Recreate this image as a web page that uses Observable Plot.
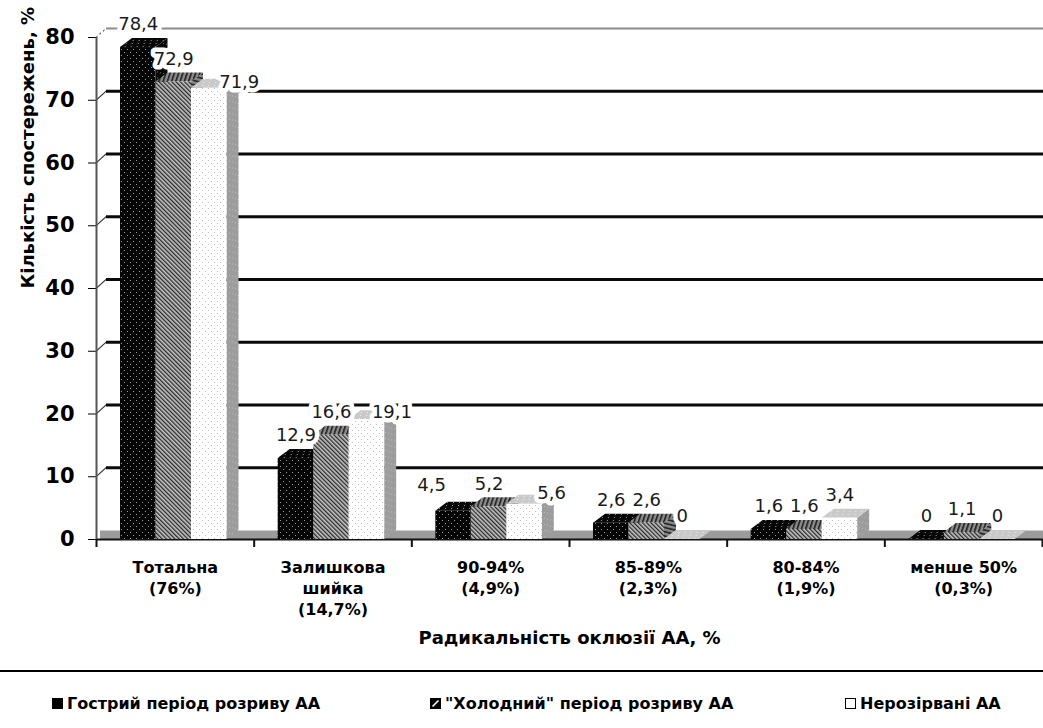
<!DOCTYPE html>
<html>
<head>
<meta charset="utf-8">
<script src="https://cdn.jsdelivr.net/npm/d3@7"></script>
<script src="https://cdn.jsdelivr.net/npm/@observablehq/plot@0.6"></script>
<style>
  body { margin: 0; background: #fff; font-family: "DejaVu Sans", sans-serif; }
  #wrap { position: relative; width: 1043px; height: 728px; overflow: hidden; }
  #chart svg { display: block; }
  #rule { position: absolute; left: 0; top: 670px; width: 1043px; border-top: 2px solid #000; }
  .leg { position: absolute; top: 693px; height: 20px; display: flex; align-items: center;
         font-weight: bold; font-size: 16px; color: #000; white-space: pre; }
  .leg svg { margin-right: 4px; }
  /* 3-D faces: top faces lean back-right, side faces rise to the right */
  rect[aria-label="bar-top"] { transform-box: fill-box; transform-origin: 0 100%; transform: skewX(-53.13deg); }
  rect[aria-label="bar-side"] { transform-box: fill-box; transform-origin: 0 0; transform: skewY(-36.87deg); }
  line[aria-label="wall-edge"] { transform-box: fill-box; transform-origin: 0 0; transform: skewY(-42deg); }
</style>
</head>
<body>
<svg width="0" height="0" style="position:absolute">
  <defs>
    <pattern id="pBlack" width="6" height="6" patternUnits="userSpaceOnUse">
      <rect width="6" height="6" fill="#050505"/>
      <rect x="1" y="1" width="1" height="1" fill="#9a9a9a"/>
      <rect x="4" y="4" width="1" height="1" fill="#9a9a9a"/>
    </pattern>
    <pattern id="pHatch" width="3" height="3" patternUnits="userSpaceOnUse" patternTransform="rotate(-45)">
      <rect width="3" height="3" fill="#c4c4c4"/>
      <rect width="1.3" height="3" fill="#2a2a2a"/>
    </pattern>
    <pattern id="pHatchDark" width="3" height="3" patternUnits="userSpaceOnUse" patternTransform="rotate(-45)">
      <rect width="3" height="3" fill="#8a8a8a"/>
      <rect width="1.3" height="3" fill="#2a2a2a"/>
    </pattern>
    <pattern id="pWhite" width="6" height="6" patternUnits="userSpaceOnUse">
      <rect width="6" height="6" fill="#ffffff"/>
      <rect x="1" y="1" width="1" height="1" fill="#bdbdbd"/>
      <rect x="4" y="4" width="1" height="1" fill="#bdbdbd"/>
    </pattern>
    <pattern id="pLight" width="6" height="6" patternUnits="userSpaceOnUse">
      <rect width="6" height="6" fill="#c9c9c9"/>
      <rect x="1" y="1" width="1" height="1" fill="#eeeeee"/>
      <rect x="4" y="4" width="1" height="1" fill="#eeeeee"/>
    </pattern>
    <pattern id="pSide" width="6" height="6" patternUnits="userSpaceOnUse">
      <rect width="6" height="6" fill="#9c9c9c"/>
      <rect x="1" y="1" width="1" height="1" fill="#c8c8c8"/>
      <rect x="4" y="4" width="1" height="1" fill="#c8c8c8"/>
    </pattern>
  </defs>
</svg>

<div id="wrap">
  <div id="chart"></div>
  <div id="rule"></div>
</div>

<script>
// Occlusion categories (share of cases in brackets) and the three patient groups
const categories = ["Тотальна", "Залишкова шийка", "90-94%", "85-89%", "80-84%", "менше 50%"];
const tickLabels = ["Тотальна\n(76%)", "Залишкова\nшийка\n(14,7%)", "90-94%\n(4,9%)", "85-89%\n(2,3%)", "80-84%\n(1,9%)", "менше 50%\n(0,3%)"];
const series = ["Гострий період розриву АА", "\"Холодний\" період розриву АА", "Нерозірвані АА"];

// Percent of observations per group
const acute = [78.4, 12.9, 4.5, 2.6, 1.6, 0];
const cold = [72.9, 16.6, 5.2, 2.6, 1.6, 1.1];
const unruptured = [71.9, 19.1, 5.6, 0, 3.4, 0];

const yTicks = [0, 10, 20, 30, 40, 50, 60, 70, 80];
const yTitle = "Кількість спостережень, %";
const xTitle = "Радикальність оклюзії АА, %";

const groups = [acute, cold, unruptured];
const rows = series.flatMap((s, j) =>
  categories.map((c, i) => ({category: c, series: j, value: groups[j][i]}))
);
const fmt = v => String(v).replace(".", ",");

// layout
const W = 1043, H = 665, mL = 96, mR = 1, mT = 37, mB = 126;
const bw = (W - mL - mR) / categories.length;
const barW = 35.5, lead = 24, depthX = 12, depthY = 9;

const frontFill = ["url(#pBlack)", "url(#pHatch)", "url(#pWhite)"];
const topFill = ["url(#pBlack)", "url(#pHatchDark)", "url(#pLight)"];
const sideFill = ["url(#pBlack)", "url(#pHatchDark)", "url(#pSide)"];

// labels shifted sideways where neighbouring labels would collide
const labelNudge = {
  "Тотальна|2": [30, 17],
  "Залишкова шийка|2": [25, 16],
  "90-94%|0": [-22, -3],
  "90-94%|2": [27, 12]
};

const offL = j => lead + barW * j;
const offR = j => bw - offL(j) - barW;
const centerDx = j => offL(j) + barW / 2 - bw / 2;

const marks = [];

// back wall grid
marks.push(Plot.ruleY(yTicks.filter(t => t > 0 && t < 80), {dy: -depthY, insetLeft: 10, insetRight: -1, stroke: "#0a0a0a", strokeWidth: 3}));
marks.push(Plot.ruleY(yTicks.filter(t => t === 80), {dy: -depthY, insetLeft: 10, insetRight: -1, stroke: "#8c8c8c", strokeWidth: 2}));
marks.push(Plot.ruleY(yTicks.filter(t => t > 0 && t < 80), {insetRight: W - mL - mR - 10, stroke: "#333", strokeWidth: 1.5, ariaLabel: () => "wall-edge"}));
marks.push(Plot.ruleY(yTicks.filter(t => t === 80), {insetRight: W - mL - mR - 10, stroke: "#555", strokeWidth: 1.5, strokeDasharray: "1.5,2", ariaLabel: () => "wall-edge"}));

// floor
marks.push(Plot.ruleY([0], {dy: -depthY / 2, insetLeft: 4, insetRight: -1, stroke: "#9c9c9c", strokeWidth: depthY}));
marks.push(Plot.ruleY([0], {insetRight: -1, stroke: "#111", strokeWidth: 2}));

// y axis line and category boundary ticks
marks.push(Plot.ruleX([categories[0]], {dx: -bw / 2, y1: 0, y2: 80, stroke: "#555", strokeWidth: 2}));
marks.push(Plot.ruleX(categories, {dx: -bw / 2, y1: 0, y2: 0, insetBottom: -8, stroke: "#111", strokeWidth: 2}));
marks.push(Plot.ruleX([categories[categories.length - 1]], {dx: bw / 2, y1: 0, y2: 0, insetBottom: -8, stroke: "#111", strokeWidth: 2}));

// 3-D side faces, then top faces, then front faces
series.forEach((s, j) => {
  const data = rows.filter(d => d.series === j);
  marks.push(Plot.barY(data, {x: "category", y1: 0, y2: "value", insetLeft: offL(j) + barW, insetRight: offR(j) - depthX, fill: sideFill[j], ariaLabel: () => "bar-side"}));
});
series.forEach((s, j) => {
  const data = rows.filter(d => d.series === j);
  marks.push(Plot.barY(data, {x: "category", y1: "value", y2: "value", insetTop: -depthY, insetLeft: offL(j), insetRight: offR(j), fill: topFill[j], ariaLabel: () => "bar-top"}));
});
series.forEach((s, j) => {
  const data = rows.filter(d => d.series === j);
  marks.push(Plot.barY(data, {x: "category", y: "value", insetLeft: offL(j), insetRight: offR(j), fill: frontFill[j]}));
});

// value labels
const labelStyle = {fontSize: 18, fontWeight: "normal", fill: "#1a1a1a", stroke: "white", strokeWidth: 9, paintOrder: "stroke"};
series.forEach((s, j) => {
  const data = rows.filter(d => d.series === j && !labelNudge[`${d.category}|${j}`]);
  marks.push(Plot.text(data, {x: "category", y: "value", text: d => fmt(d.value), dx: centerDx(j), dy: -23, ...labelStyle}));
});
Object.entries(labelNudge).forEach(([key, [ndx, ndy]]) => {
  const [cat, j] = key.split("|");
  const data = rows.filter(d => d.category === cat && d.series === +j);
  marks.push(Plot.text(data, {x: "category", y: "value", text: d => fmt(d.value), dx: centerDx(+j) + ndx, dy: -23 + ndy, ...labelStyle}));
});

// category labels and axis titles
marks.push(Plot.text(categories, {x: d => d, text: (d, i) => tickLabels[i], frameAnchor: "bottom", lineAnchor: "top", dy: 19, lineHeight: 1.3, fontSize: 16, fontWeight: "bold", fill: "#000"}));
marks.push(Plot.text([xTitle], {frameAnchor: "bottom", dy: 104, fontSize: 18, fontWeight: "bold", fill: "#000"}));
marks.push(Plot.text([yTitle], {frameAnchor: "left", dx: -68, rotate: -90, fontSize: 18, fontWeight: "bold", fill: "#000"}));

const chart = Plot.plot({
  width: W,
  height: H,
  marginLeft: mL,
  marginRight: mR,
  marginTop: mT,
  marginBottom: mB,
  style: {fontFamily: "DejaVu Sans, sans-serif", fontSize: "21px", fontWeight: "bold", color: "#000", background: "transparent", overflow: "visible"},
  x: {domain: categories, padding: 0, round: false, axis: null},
  y: {domain: [0, 80], ticks: yTicks, tickSize: 8, tickPadding: 14, label: null},
  marks
});
document.getElementById("chart").append(chart);

// legend
const legendLeft = [52, 430, 845];
const swatch = [
  '<rect x="0.5" y="0.5" width="10" height="10" fill="#000" stroke="#000"/>',
  '<rect x="0.5" y="0.5" width="10" height="10" fill="#000" stroke="#000"/><path d="M2.5,8.5 L8.5,2.5" stroke="#fff" stroke-width="1.6"/>',
  '<rect x="0.5" y="0.5" width="10" height="10" fill="#fff" stroke="#000"/>'
];
const wrap = document.getElementById("wrap");
series.forEach((s, j) => {
  const item = document.createElement("div");
  item.className = "leg";
  item.style.left = legendLeft[j] + "px";
  item.innerHTML = `<svg width="11" height="11">${swatch[j]}</svg>`;
  const span = document.createElement("span");
  span.textContent = s;
  item.append(span);
  wrap.append(item);
});
</script>
</body>
</html>
